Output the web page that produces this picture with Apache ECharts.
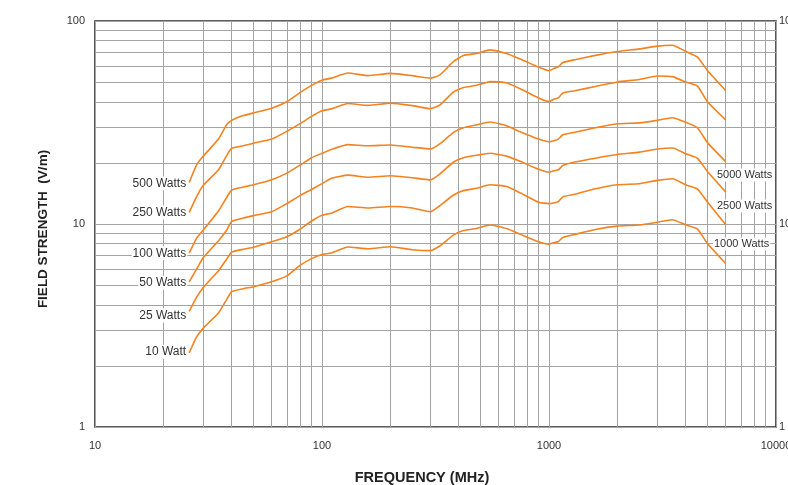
<!DOCTYPE html>
<html><head><meta charset="utf-8">
<script src="https://cdn.jsdelivr.net/npm/echarts@6/dist/echarts.min.js"></script>
<style>html,body{margin:0;padding:0;background:#fff;overflow:hidden}#c{width:788px;height:485px}</style>
</head><body><div id="c"></div>
<script>
// Frequencies (MHz) shared by every curve
const freqs = [26,28,30,35,38,40,45,50,60,70,80,90,100,110,130,160,200,250,300,330,380,420,480,550,650,750,900,1000,1050,1100,1150,1300,1600,2000,2500,3000,3500,4000,4500,5000,6000];
// Field strength (V/m)
const w500 = [16.0,19.5,21.6,26.2,30.8,32.4,34.2,35.3,37.2,40.0,44.4,48.2,51.1,52.3,55.4,53.8,55.2,53.8,52.3,54.1,63.2,67.7,69.2,72.1,69.2,64.8,59.3,56.9,58.3,59.5,62.4,64.5,67.7,70.7,72.9,75.2,75.9,70.9,66.5,56.9,45.5];
const w250 = [11.4,13.6,15.5,18.5,21.7,23.6,24.3,25.0,26.2,28.6,31.2,33.9,36.1,36.9,39.2,38.4,39.4,38.3,37.0,38.5,44.8,47.0,48.2,50.3,49.6,46.2,41.8,40.1,41.2,41.8,44.2,45.3,47.6,50.1,51.5,53.6,53.2,50.0,47.9,39.9,32.6];
const w100 = [7.18,8.50,9.35,11.6,13.5,14.7,15.2,15.6,16.5,17.8,19.5,21.2,22.3,23.3,24.6,24.3,24.5,23.9,23.4,24.8,28.3,29.8,30.8,31.8,30.5,28.4,26.2,25.4,25.7,26.2,27.5,28.3,29.8,31.2,31.5,32.4,33.4,31.7,29.8,25.1,20.3];
const w50 = [5.19,5.99,6.83,8.27,9.31,10.3,10.7,11.0,11.5,12.6,13.8,14.8,15.8,16.8,17.4,17.0,17.3,16.9,16.5,17.6,20.2,21.2,21.8,22.3,21.6,20.3,18.6,18.0,18.3,18.5,19.4,20.2,21.1,22.0,22.6,23.4,23.7,22.2,21.1,18.1,14.4];
const w25 = [3.71,4.35,4.87,5.89,6.71,7.27,7.51,7.69,8.17,8.65,9.42,10.35,11.05,11.3,12.2,12.0,12.2,12.0,11.5,12.3,13.9,14.6,15.0,15.6,15.3,14.2,12.8,12.6,12.7,12.9,13.6,14.0,14.9,15.6,15.8,16.4,16.7,15.6,14.9,12.8,9.94];
const w10 = [2.32,2.77,3.07,3.64,4.24,4.64,4.80,4.91,5.19,5.55,6.25,6.75,7.07,7.20,7.70,7.55,7.73,7.47,7.39,7.79,8.84,9.28,9.51,9.89,9.51,8.89,8.17,7.96,8.08,8.20,8.58,8.89,9.40,9.76,9.89,10.2,10.5,9.91,9.46,7.99,6.39];
const seriesNames = ['500 Watts','250 Watts','100 Watts','50 Watts','25 Watts','10 Watt'];
const seriesValues = [w500,w250,w100,w50,w25,w10];
const rightLabels = ['5000 Watts','2500 Watts','1000 Watts'];
// minor grid values
const xMinor = [20,30,40,50,60,70,80,90,200,300,400,500,600,700,800,900,2000,3000,4000,5000,6000,7000,8000,9000];
const yMinor = [2,3,4,5,6,7,8,9,20,30,40,50,60,70,80,90];

const FONT = 'Liberation Sans, Arial, sans-serif';
const ORANGE = '#F5821F';
const GRID = '#a3a3a3';
const chart = echarts.init(document.getElementById('c'), null, {renderer:'canvas'});

const labelOffsets = [[0,1],[0,0],[0,0],[0,1],[0,4],[0,-1]];
const curves = seriesValues.map((vals, i) => ({
  type: 'line', name: seriesNames[i], z: 5,
  smooth: 0.15, symbol: 'none', showSymbol: false,
  lineStyle: {color: ORANGE, width: 1.6},
  data: vals.map((v, j) => [freqs[j], v]),
  markPoint: {
    symbol: 'circle', symbolSize: 0, animation: false, silent: true,
    data: [{coord: [freqs[0], vals[0]], value: seriesNames[i],
      label: {show: true, position: 'left', distance: 2, offset: labelOffsets[i],
        formatter: seriesNames[i], color: '#333', fontFamily: FONT, fontSize: 12,
        backgroundColor: '#fff', padding: [1, 1]}}]
  }
}));

const gridSeries = {
  type: 'line', z: 1, data: [], silent: true,
  markLine: {
    silent: true, symbol: ['none','none'], animation: false,
    label: {show: false},
    lineStyle: {color: GRID, width: 1, type: 'solid'},
    data: xMinor.map(x => ({xAxis: x})).concat(yMinor.map(y => ({yAxis: y})))
  }
};

const rightCoords = [[5441, 17.43],[5441, 12.27],[5278, 7.97]];
const annotSeries = {
  type: 'line', z: 6, data: [], silent: true,
  markPoint: {
    symbol: 'circle', symbolSize: 0, animation: false,
    data: rightLabels.map((t, i) => ({coord: rightCoords[i], value: t,
      label: {show: true, position: 'right', distance: 0, formatter: t,
        color: '#333', fontFamily: FONT, fontSize: 11, backgroundColor: '#fff', padding: [1,1]}}))
  }
};

chart.setOption({
  animation: false,
  backgroundColor: '#fff',
  grid: {left: 95, right: 12, top: 21, bottom: 58, outerBoundsMode: 'none', containLabel: false,
    show: true, borderColor: '#2b2b2b', borderWidth: 1.6, backgroundColor: 'transparent'},
  xAxis: {
    type: 'log', logBase: 10, min: 10, max: 10000,
    axisLine: {show: false}, axisTick: {show: false},
    axisLabel: {color: '#333', fontFamily: FONT, fontSize: 11, margin: 13, formatter: v => String(Math.round(v))},
    splitLine: {show: true, lineStyle: {color: GRID, width: 1}}
  },
  yAxis: [{
    type: 'log', logBase: 10, min: 1, max: 100,
    axisLine: {show: false}, axisTick: {show: false},
    axisLabel: {color: '#333', fontFamily: FONT, fontSize: 11, margin: 10, formatter: v => String(Math.round(v))},
    splitLine: {show: true, lineStyle: {color: GRID, width: 1}}
  },{
    type: 'log', logBase: 10, min: 1, max: 100, position: 'right',
    axisLine: {show: false}, axisTick: {show: false},
    axisLabel: {color: '#333', fontFamily: FONT, fontSize: 11, margin: 3, formatter: v => String(Math.round(v))},
    splitLine: {show: false}
  }],
  graphic: [{
    type: 'text', x: 422, y: 478,
    style: {text: 'FREQUENCY (MHz)', fill: '#222', font: 'bold 14.5px ' + FONT, textAlign: 'center', textVerticalAlign: 'middle'}
  },{
    type: 'text', x: 43, y: 229, rotation: Math.PI / 2,
    style: {text: 'FIELD STRENGTH  (V/m)', fill: '#222', font: 'bold 13.5px ' + FONT, textAlign: 'center', textVerticalAlign: 'middle'}
  }],
  series: [gridSeries].concat(curves).concat([annotSeries])
});
</script></body></html>
